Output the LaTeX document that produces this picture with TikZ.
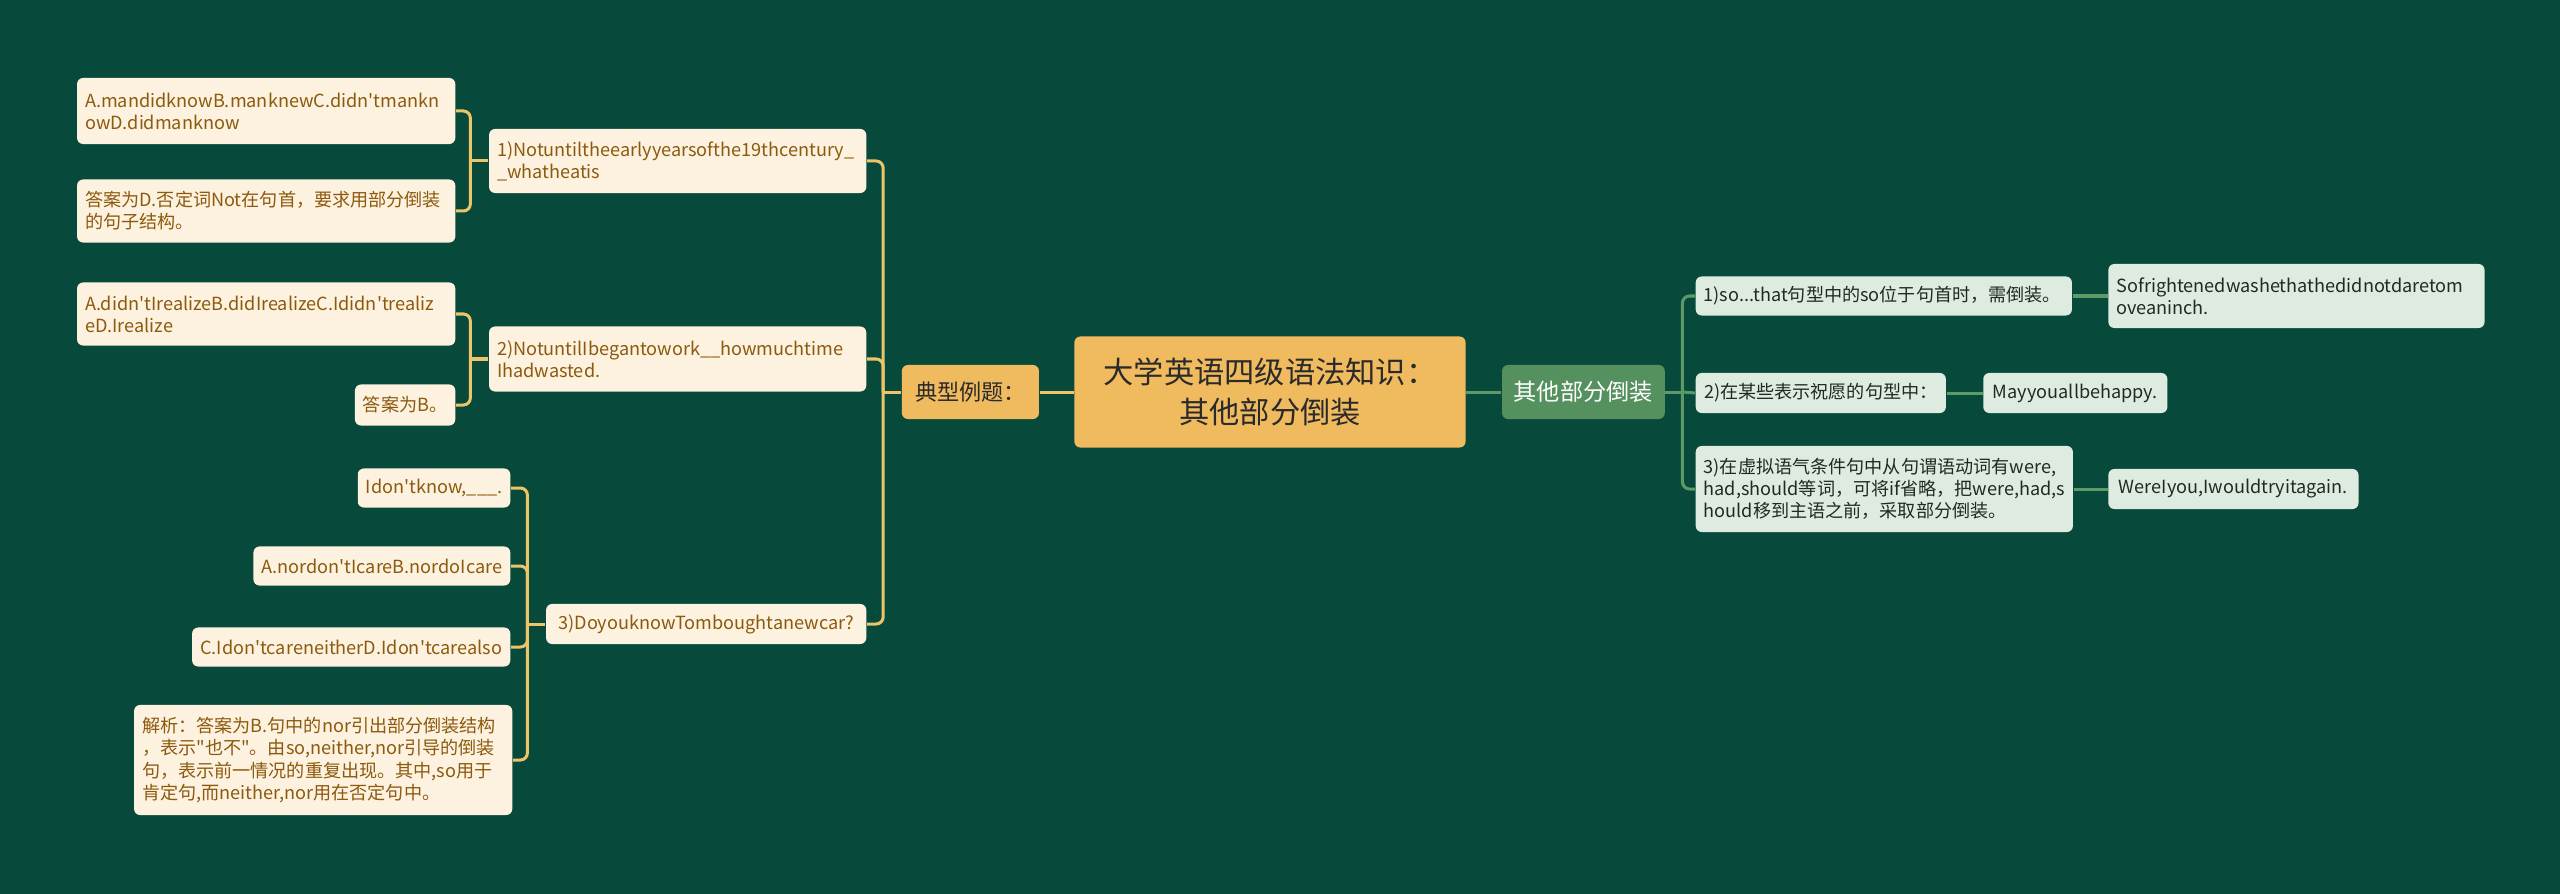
\documentclass[tikz,border=0pt]{standalone}
\usepackage{fontspec}
\setmainfont{Noto Sans CJK SC}
\newfontfamily\notosc{Noto Sans CJK SC}
\usepackage{xcolor}
\definecolor{canvas}{HTML}{07493A}
\definecolor{cream}{HTML}{FDF1E0}
\definecolor{umber}{HTML}{8C5A0C}
\definecolor{gold}{HTML}{EDC468}
\definecolor{amber}{HTML}{F0BA5F}
\definecolor{ink}{HTML}{2A2A2A}
\definecolor{sage}{HTML}{55905F}
\definecolor{mint}{HTML}{DEEBE0}
\definecolor{pine}{HTML}{1E2B22}
\definecolor{fern}{HTML}{5C9A67}
\usepackage{tikz}
\usetikzlibrary{positioning, calc}

\tikzset{
  qbox/.style={fill=cream, text=umber, rounded corners=0.06cm,
    font=\notosc\fontsize{5.15pt}{6.3pt}\selectfont, inner xsep=0.08cm, inner ysep=0.04cm},
  rbox/.style={fill=mint, text=pine, rounded corners=0.06cm,
    font=\notosc\fontsize{5.15pt}{6.3pt}\selectfont, inner xsep=0.08cm, inner ysep=0.04cm},
  goldline/.style={draw=gold, line width=0.03cm, rounded corners=0.07cm},
  fernline/.style={draw=fern, line width=0.03cm, rounded corners=0.07cm}
}

\begin{document}
\begin{tikzpicture}[x=0.01cm, y=-0.01cm]

  \fill[canvas] (0,0) rectangle (2560,894);

  \node[fill=amber, text=ink, rounded corners=0.06cm, align=center,
        minimum width=3.91cm, minimum height=1.11cm,
        font=\notosc\fontsize{8.6pt}{11.4pt}\selectfont] (root) at (1270,392)
        {大学英语四级语法知识：\\其他部分倒装};

  \node[fill=amber, text=ink, rounded corners=0.06cm,
        minimum width=1.37cm, minimum height=0.54cm,
        font=\notosc\fontsize{6.3pt}{7.5pt}\selectfont,
        left=0.34cm of root] (typ) {典型例题：};

  \node[fill=sage, text=white, rounded corners=0.06cm,
        minimum width=1.61cm, minimum height=0.54cm,
        font=\notosc\fontsize{6.6pt}{7.8pt}\selectfont,
        right=0.35cm of root] (oth) {其他部分倒装};

  \node[qbox, anchor=east, text width=3.61cm, align=left, minimum height=0.64cm] (q1) at (867,161)
    {1)Notuntiltheearlyyearsofthe19thcentury\_\\\_whatheatis};
  \node[qbox, anchor=east, text width=3.62cm, align=left, minimum height=0.66cm] (a1a) at (456,111)
    {A.mandidknowB.manknewC.didn'tmankn\\owD.didmanknow};
  \node[qbox, anchor=east, text width=3.62cm, align=left, minimum height=0.63cm] (a1b) at (456,211)
    {答案为D.否定词Not在句首，要求用部分倒装\\的句子结构。};

  \node[qbox, anchor=east, text width=3.61cm, align=left, minimum height=0.65cm] (q2) at (867,359)
    {2)NotuntilIbegantowork\_\_howmuchtime\\Ihadwasted.};
  \node[qbox, anchor=east, text width=3.62cm, align=left, minimum height=0.63cm] (a2a) at (456,314)
    {A.didn'tIrealizeB.didIrealizeC.Ididn'trealiz\\eD.Irealize};
  \node[qbox, anchor=east, minimum width=1.0cm, minimum height=0.41cm] (a2b) at (456,405)
    {答案为B。};

  \node[qbox, anchor=east, minimum width=3.2cm, minimum height=0.4cm] (q3) at (867,624)
    {3)DoyouknowTomboughtanewcar?};
  \node[qbox, anchor=east, minimum width=1.45cm, minimum height=0.39cm] (q3a) at (511,488)
    {Idon'tknow,\_\_\_.};
  \node[qbox, anchor=east, minimum width=2.56cm, minimum height=0.39cm] (q3b) at (511,566)
    {A.nordon'tIcareB.nordoIcare};
  \node[qbox, anchor=east, minimum width=3.18cm, minimum height=0.39cm] (q3c) at (511,647)
    {C.Idon'tcareneitherD.Idon'tcarealso};
  \node[qbox, anchor=east, text width=3.62cm, align=left, minimum height=1.1cm] (q3d) at (513,760)
    {解析：答案为B.句中的nor引出部分倒装结构\\，表示"也不"。由so,neither,nor引导的倒装\\句，表示前一情况的重复出现。其中,so用于\\肯定句,而neither,nor用在否定句中。};

  \node[rbox, anchor=west, text width=3.6cm, align=left, minimum height=0.39cm] (r1) at (1695,296)
    {1)so...that句型中的so位于句首时，需倒装。};
  \node[rbox, text width=3.6cm, align=left, minimum height=0.64cm,
        right=0.35cm of r1] (r1c)
    {Sofrightenedwashethathedidnotdaretom\\oveaninch.};
  \node[rbox, anchor=west, minimum width=2.5cm, minimum height=0.4cm] (r2) at (1695,393)
    {2)在某些表示祝愿的句型中：};
  \node[rbox, minimum width=1.84cm, minimum height=0.4cm,
        right=0.36cm of r2] (r2c) {Mayyouallbehappy.};
  \node[rbox, anchor=west, text width=3.61cm, align=left, minimum height=0.86cm] (r3) at (1695,489)
    {3)在虚拟语气条件句中从句谓语动词有were,\\had,should等词，可将if省略，把were,had,s\\hould移到主语之前，采取部分倒装。};
  \node[rbox, minimum width=2.5cm, minimum height=0.4cm,
        right=0.34cm of r3] (r3c) {WereIyou,Iwouldtryitagain.};

  \coordinate[left=0.18cm of typ] (typhub);
  \coordinate[left=0.18cm of q1] (q1hub);
  \coordinate[left=0.18cm of q2] (q2hub);
  \coordinate[left=0.18cm of q3] (q3hub);
  \coordinate[right=0.17cm of oth] (othhub);

  \draw[goldline] (root.west) -- (typ.east);
  \draw[goldline] (typ.west) -- (typhub);
  \draw[goldline] (typhub) |- (q1.east);
  \draw[goldline] (typhub) |- (q2.east);
  \draw[goldline] (typhub) |- (q3.east);

  \draw[goldline] (q1.west) -- (q1hub);
  \draw[goldline] (q1hub) |- (a1a.east);
  \draw[goldline] (q1hub) |- (a1b.east);

  \draw[goldline] (q2.west) -- (q2hub);
  \draw[goldline] (q2hub) |- (a2a.east);
  \draw[goldline] (q2hub) |- (a2b.east);

  \draw[goldline] (q3.west) -- (q3hub);
  \draw[goldline] (q3hub) |- (q3a.east);
  \draw[goldline] (q3hub) |- (q3b.east);
  \draw[goldline] (q3hub) |- (q3c.east);
  \draw[goldline] (q3hub) |- (q3d.east);

  \draw[fernline] (root.east) -- (oth.west);
  \draw[fernline] (oth.east) -- (othhub);
  \draw[fernline] (othhub) |- (r1.west);
  \draw[fernline] (othhub) -- (r2.west);
  \draw[fernline] (othhub) |- (r3.west);

  \draw[fernline] (r1.east) -- (r1c.west);
  \draw[fernline] (r2.east) -- (r2c.west);
  \draw[fernline] (r3.east) -- (r3c.west);

\end{tikzpicture}
\end{document}
